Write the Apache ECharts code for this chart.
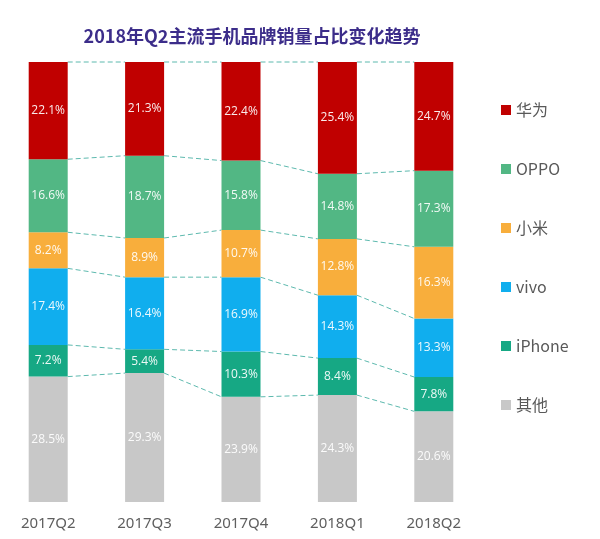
<!DOCTYPE html>
<html><head><meta charset="utf-8">
<script src="https://cdn.jsdelivr.net/npm/echarts@6/dist/echarts.min.js"></script>
<style>html,body{margin:0;padding:0;background:#fff}#c{width:600px;height:539px}</style>
</head><body><div id="c"></div>
<script>
var categories = ['2017Q2','2017Q3','2017Q4','2018Q1','2018Q2'];
var huawei = [22.1, 21.3, 22.4, 25.4, 24.7];
var oppo   = [16.6, 18.7, 15.8, 14.8, 17.3];
var xiaomi = [8.2, 8.9, 10.7, 12.8, 16.3];
var vivo   = [17.4, 16.4, 16.9, 14.3, 13.3];
var iphone = [7.2, 5.4, 10.3, 8.4, 7.8];
var other  = [28.5, 29.3, 23.9, 24.3, 20.6];
var legendOrder = ['华为','OPPO','小米','vivo','iPhone','其他'];

// stacking order bottom -> top
var stack = [
  {name:'其他', data:other, color:'#C8C8C8'},
  {name:'iPhone', data:iphone, color:'#16A884'},
  {name:'vivo', data:vivo, color:'#10AEEE'},
  {name:'小米', data:xiaomi, color:'#F8AE3C'},
  {name:'OPPO', data:oppo, color:'#52B784'},
  {name:'华为', data:huawei, color:'#C00000'}
];
var BAR_W = 39;

var series = stack.map(function(s){
  return {
    name: s.name, type:'bar', stack:'all', barWidth: BAR_W,
    data: s.data,
    itemStyle:{color:s.color},
    label:{show:true, position:'inside', color:'rgba(255,255,255,0.92)', fontSize:12,
      fontFamily:'Open Sans', formatter:function(p){return p.value.toFixed(1)+'%';}}
  };
});

// cumulative boundaries for connector lines
var lineData = [];
for (var i = 0; i < categories.length - 1; i++) {
  var c1 = 0, c2 = 0;
  for (var k = 0; k < stack.length; k++) {
    c1 += stack[k].data[i]; c2 += stack[k].data[i+1];
    lineData.push([i, Math.round(c1*10)/10, Math.round(c2*10)/10]);
  }
}
series.push({
  type:'custom', name:'conn', silent:true, z:1,
  data: lineData,
  encode:{x:0, y:1},
  renderItem:function(params, api){
    var i = api.value(0);
    var a = api.coord([i, api.value(1)]);
    var b = api.coord([i+1, api.value(2)]);
    return {type:'line', shape:{x1:a[0]+BAR_W/2, y1:a[1], x2:b[0]-BAR_W/2, y2:b[1]},
      style:{stroke:'#5DB9AE', lineWidth:1, lineDash:[5,3]}};
  }
});

var chart = echarts.init(document.getElementById('c'));
chart.setOption({
  animation:false,
  title:{text:'2018年Q2主流手机品牌销量占比变化趋势', left:247, top:22, textAlign:'center',
    textStyle:{fontSize:18, fontWeight:'bold', color:'#3C2D8A', fontFamily:'Noto Sans CJK SC'}},
  legend:{data:legendOrder, orient:'vertical', left:496, top:97, itemWidth:10, itemHeight:10,
    itemGap:43, icon:'rect',
    textStyle:{fontSize:16, color:'#595959', fontFamily:'Noto Sans CJK SC'}},
  grid:{left:-1, width:483, top:62, bottom:37},
  xAxis:{type:'category', data:categories, axisLine:{show:false}, axisTick:{show:false},
    axisLabel:{fontSize:15, color:'#5f5f5f', margin:14, fontFamily:'Noto Sans'}},
  yAxis:{type:'value', min:0, max:100, show:false},
  series:series
});
</script></body></html>
